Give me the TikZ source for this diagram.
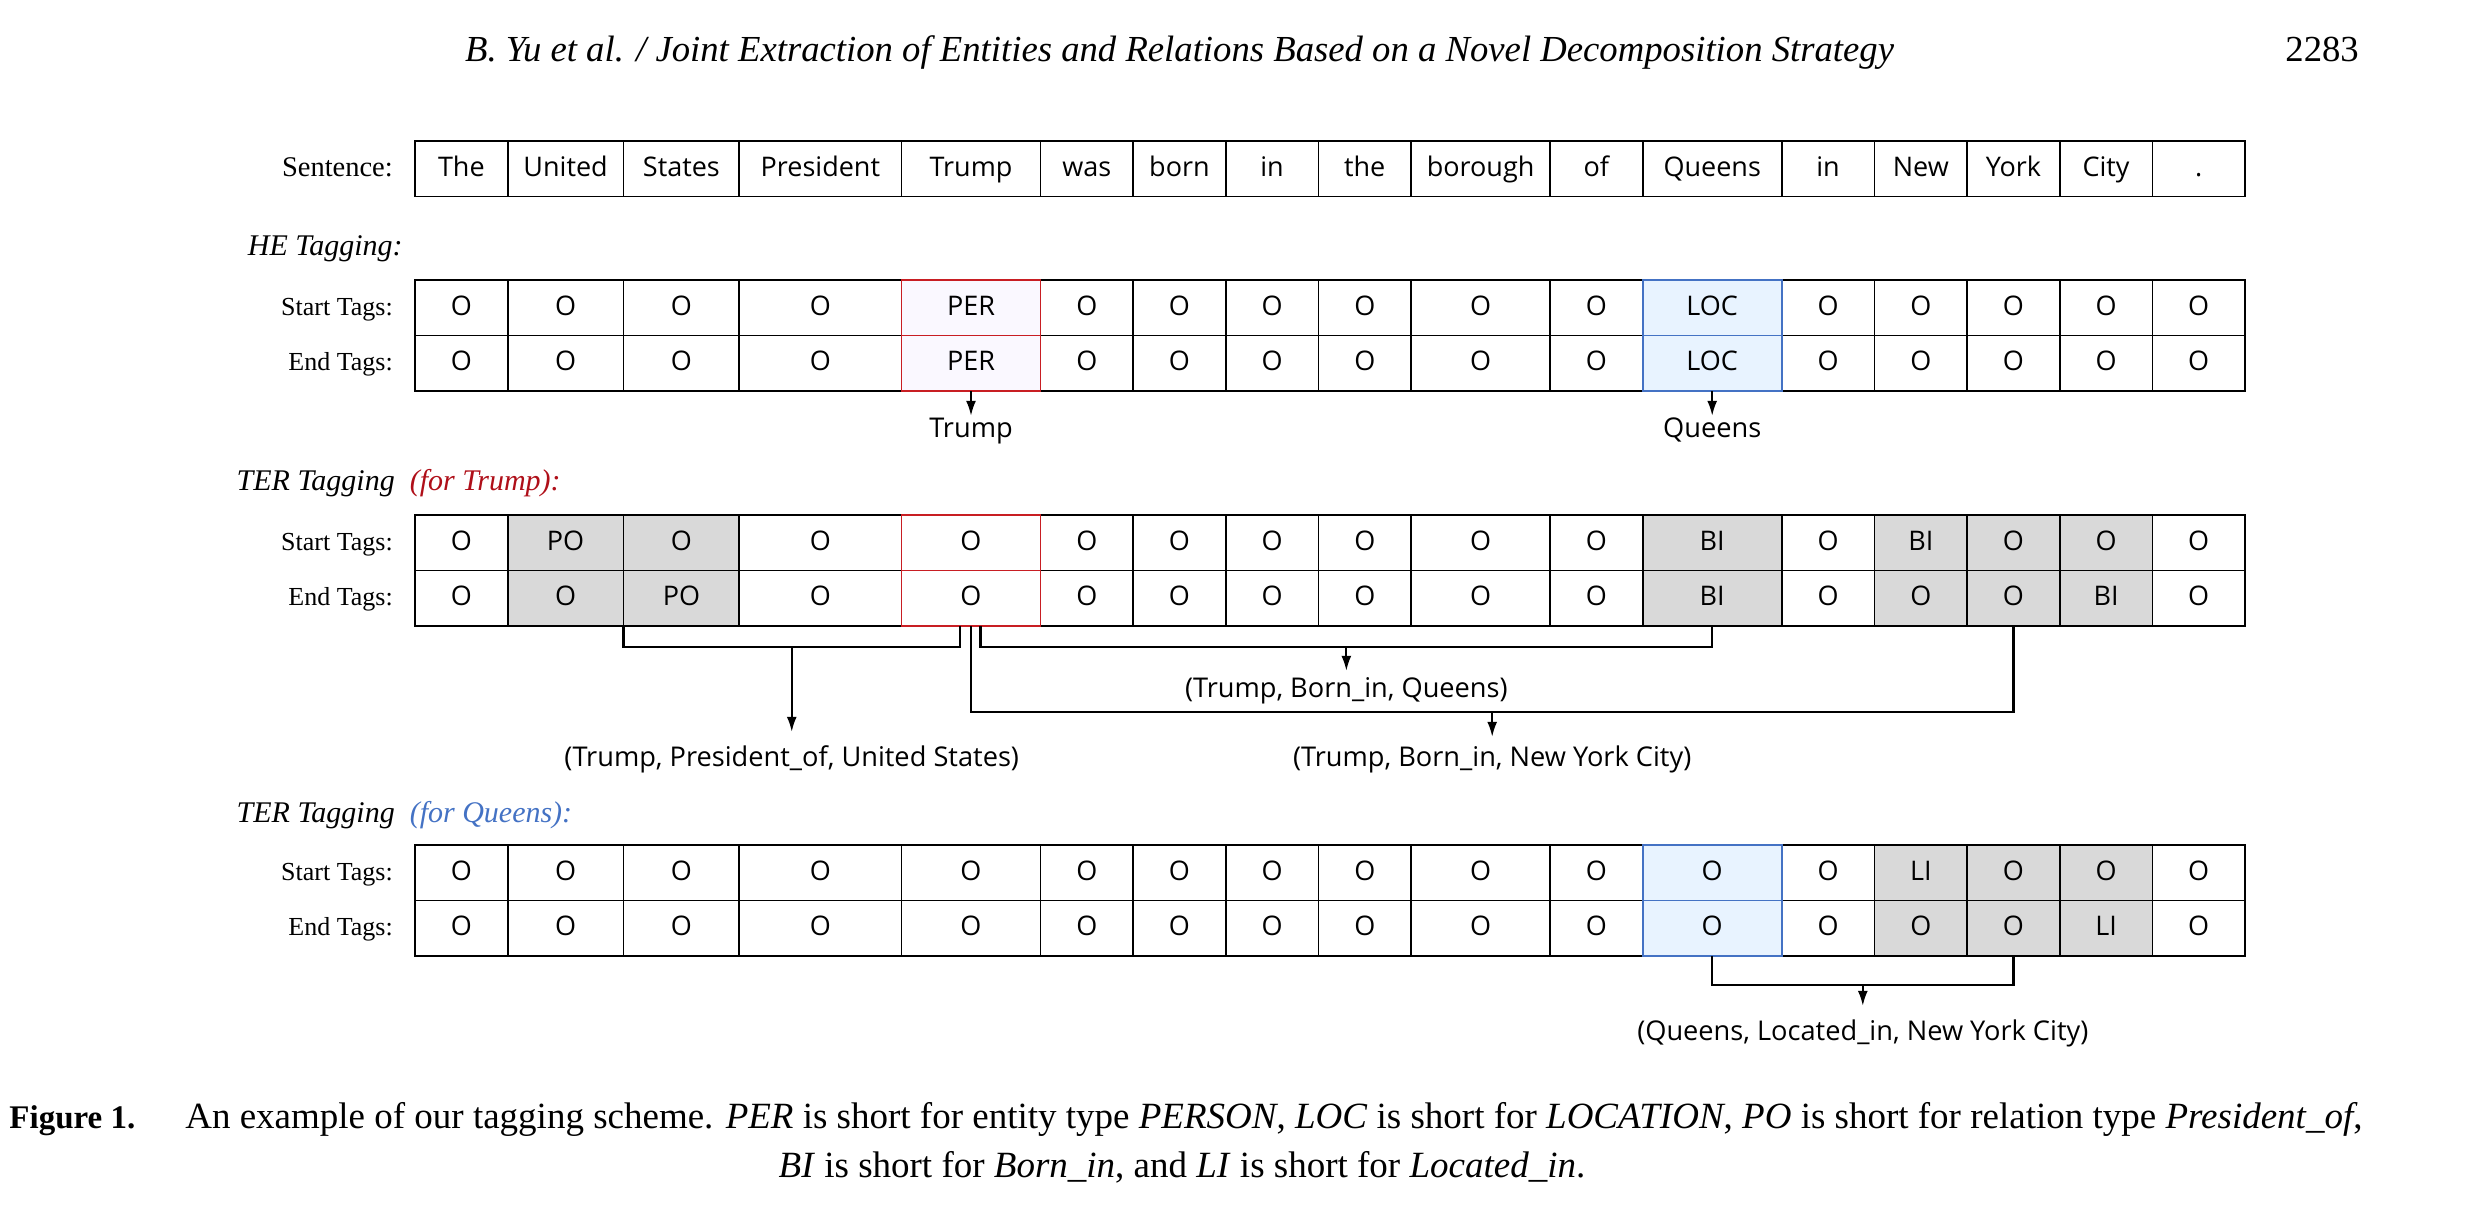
\documentclass[tikz,border=0pt]{standalone}
\usepackage{fontspec}
\setmainfont{Liberation Serif}
\newfontfamily\cellfont{Open Sans}
\usetikzlibrary{arrows.meta,calc}
\definecolor{perred}{RGB}{200,30,35}
\definecolor{trumptxt}{RGB}{175,15,25}
\definecolor{perfill}{RGB}{250,248,255}
\definecolor{locblue}{RGB}{68,114,196}
\definecolor{locfill}{RGB}{232,243,255}
\definecolor{tgray}{RGB}{217,217,217}
\def\colL{{415,507.7,623.5,739.3,901.5,1040.5,1133.1,1225.8,1318.4,1411.1,1550.1,1642.7,1781.7,1874.4,1967.1,2059.7,2152.4,2245}}
\newcommand\tagrow[3]{%
  \foreach \t/\fc [count=\i] in {#3} {%
    \pgfmathsetmacro\xa{\colL[\i-1]}%
    \pgfmathsetmacro\xb{\colL[\i]}%
    \pgfmathsetmacro\w{\xb-\xa}%
    \node[cell, fill=\fc, minimum width=\w pt] (#1\i) at (\xa,#2) {\t};
  }}
\begin{document}
\begin{tikzpicture}[x=1pt,y=-1pt,
  cell/.style={draw=black,line width=1.8pt,outer sep=0pt,inner sep=0pt,
    minimum height=55.5pt,text height=19.5pt,text depth=4.5pt,
    font=\cellfont\fontsize{27}{31}\selectfont,anchor=north west},
  rowlab/.style={anchor=base east,inner sep=0pt,font=\fontsize{26}{30}\selectfont},
  seclab/.style={anchor=base west,inner sep=0pt,font=\itshape\fontsize{30}{34}\selectfont},
  conn/.style={line width=2.5pt},
  arr/.style={line width=2pt,-{Latex[length=15pt,width=10pt]}},
  outlab/.style={anchor=base,inner sep=0pt,text height=19pt,text depth=5pt,
    font=\cellfont\fontsize{27.2}{31}\selectfont},
  capf/.style={anchor=base,inner sep=0pt,font=\fontsize{37}{42}\selectfont}
]
\useasboundingbox (0,0) rectangle (2466,1220);

% header
\node[anchor=base west,inner sep=0pt,font=\itshape\fontsize{36.7}{42}\selectfont] (hdr) at (465,62)
  {B. Yu et al. / Joint Extraction of Entities and Relations Based on a Novel Decomposition Strategy};
\node[anchor=base east,inner sep=0pt,font=\fontsize{36.7}{42}\selectfont] (pg) at (2359,62) {2283};

% sentence
\node[rowlab,font=\fontsize{28.5}{32}\selectfont] (lsent) at (393,176) {Sentence:};
\tagrow{sw}{141}{The/white,United/white,States/white,President/white,Trump/white,was/white,born/white,in/white,the/white,borough/white,of/white,Queens/white,in/white,New/white,York/white,City/white,./white}

% HE tagging
\node[seclab] (lhe) at (247.7,255) {HE Tagging:};
\node[rowlab] (lhes) at (393,315) {Start Tags:};
\node[rowlab] (lhee) at (393,370.5) {End Tags:};
\tagrow{hes}{280}{O/white,O/white,O/white,O/white,PER/perfill,O/white,O/white,O/white,O/white,O/white,O/white,LOC/locfill,O/white,O/white,O/white,O/white,O/white}
\tagrow{hee}{335.5}{O/white,O/white,O/white,O/white,PER/perfill,O/white,O/white,O/white,O/white,O/white,O/white,LOC/locfill,O/white,O/white,O/white,O/white,O/white}

% TER tagging for Trump
\node[seclab] (lter1) at (236.5,490) {TER Tagging\hspace{15pt}{\color{trumptxt}(for Trump):}};
\node[rowlab] (ltts) at (393,550) {Start Tags:};
\node[rowlab] (ltte) at (393,605.5) {End Tags:};
\tagrow{tts}{515}{O/white,PO/tgray,O/tgray,O/white,O/white,O/white,O/white,O/white,O/white,O/white,O/white,BI/tgray,O/white,BI/tgray,O/tgray,O/tgray,O/white}
\tagrow{tte}{570.5}{O/white,O/tgray,PO/tgray,O/white,O/white,O/white,O/white,O/white,O/white,O/white,O/white,BI/tgray,O/white,O/tgray,O/tgray,BI/tgray,O/white}

% TER tagging for Queens
\node[seclab] (lter2) at (236.5,822) {TER Tagging\hspace{15pt}{\color{locblue}(for Queens):}};
\node[rowlab] (ltqs) at (393,880) {Start Tags:};
\node[rowlab] (ltqe) at (393,935.5) {End Tags:};
\tagrow{tqs}{845}{O/white,O/white,O/white,O/white,O/white,O/white,O/white,O/white,O/white,O/white,O/white,O/locfill,O/white,LI/tgray,O/tgray,O/tgray,O/white}
\tagrow{tqe}{900.5}{O/white,O/white,O/white,O/white,O/white,O/white,O/white,O/white,O/white,O/white,O/white,O/locfill,O/white,O/tgray,O/tgray,LI/tgray,O/white}

% coloured outlines
\foreach \n in {hes5,hee5,tts5,tte5}
  \draw[perred,line width=1.8pt] (\n.north west) rectangle (\n.south east);
\foreach \n in {hes12,hee12,tqs12,tqe12}
  \draw[locblue,line width=1.8pt] (\n.north west) rectangle (\n.south east);

% HE outputs
\node[outlab] (oT) at (hee5.south |- 0,437) {Trump};
\node[outlab] (oQ) at (hee12.south |- 0,437) {Queens};
\draw[arr] (hee5.south) -- ([yshift=2pt]oT.north);
\draw[arr] (hee12.south) -- ([yshift=2pt]oQ.north);

% TER (Trump) brackets
\draw[conn] (tte3.south west) -- ++(0,21) -| ([xshift=-11pt]tte5.south);
\draw[conn] ([xshift=9.5pt]tte5.south) -- ++(0,21) -| (tte12.south);
\draw[conn] (tte5.south) -- ++(0,86) -| (tte15.south);

\coordinate (m1) at ($(tte3.south west)!0.5!([xshift=-11pt]tte5.south)+(0,21)$);
\coordinate (m2) at ($([xshift=9.5pt]tte5.south)!0.5!(tte12.south)+(0,21)$);
\coordinate (m3) at ($(tte5.south)!0.5!(tte15.south)+(0,86)$);

\node[outlab] (r1) at (m1 |- 0,766) {(Trump, President\_of, United States)};
\node[outlab] (r2) at (m2 |- 0,697) {(Trump, Born\_in, Queens)};
\node[outlab] (r3) at (m3 |- 0,766) {(Trump, Born\_in, New York City)};
\draw[arr] (m1) -- ([yshift=15pt]r1.north);
\draw[arr] (m2) -- ([yshift=7pt]r2.north);
\draw[arr] (m3) -- ([yshift=10pt]r3.north);

% TER (Queens) bracket
\draw[conn] (tqe12.south) -- ++(0,29) -| (tqe15.south);
\coordinate (m4) at ($(tqe12.south)!0.5!(tqe15.south)+(0,29)$);
\node[outlab] (r4) at (m4 |- 0,1040) {(Queens, Located\_in, New York City)};
\draw[arr] (m4) -- ([yshift=15pt]r4.north);

% caption
\node[capf] (cap1) at (1186,1128) {{\bfseries\fontsize{33}{42}\selectfont Figure 1.}\hspace{1.35em}An example of our tagging scheme. \textit{PER} is short for entity type \textit{PERSON}, \textit{LOC} is short for \textit{LOCATION}, \textit{PO} is short for relation type \textit{President\_of},};
\node[capf] (cap2) at (1182,1177) {\textit{BI} is short for \textit{Born\_in}, and \textit{LI} is short for \textit{Located\_in}.};
\end{tikzpicture}
\end{document}
